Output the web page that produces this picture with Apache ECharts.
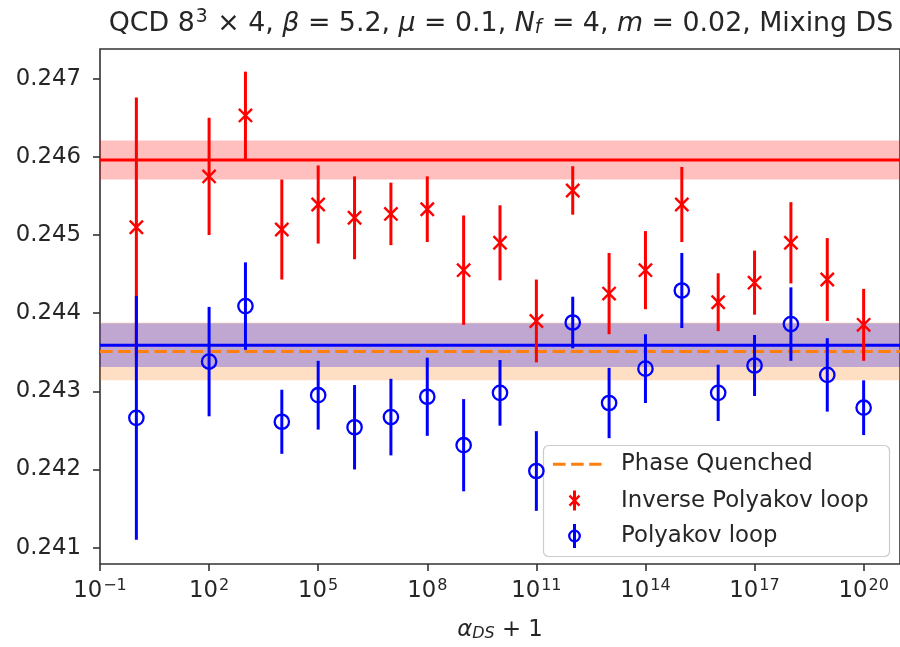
<!DOCTYPE html>
<html>
<head>
<meta charset="utf-8">
<script src="https://cdn.jsdelivr.net/npm/echarts@6/dist/echarts.min.js"></script>
<style>
  html, body { margin: 0; padding: 0; background: #fff; }
  #chart { width: 900px; height: 647px; }
</style>
</head>
<body>
<div id="chart"></div>
<script>
// alpha_DS + 1 for each mixing run
const alphaPlusOne = [1, 1e2, 1e3, 1e4, 1e5, 1e6, 1e7, 1e8, 1e9, 1e10,
                      1e11, 1e12, 1e13, 1e14, 1e15, 1e16, 1e17, 1e18, 1e19, 1e20];

// inverse Polyakov loop and its error
const inversePolyakov = [0.24510, 0.24575, 0.24653, 0.24507, 0.24539, 0.24522, 0.24527, 0.24533, 0.24455, 0.24490,
                         0.24390, 0.24557, 0.24425, 0.24455, 0.24539, 0.24414, 0.24439, 0.24490, 0.24443, 0.24385];
const inversePolyakovErr = [0.00166, 0.00075, 0.00056, 0.00064, 0.00050, 0.00053, 0.00040, 0.00042, 0.00070, 0.00048,
                            0.00053, 0.00031, 0.00052, 0.00050, 0.00048, 0.00037, 0.00041, 0.00052, 0.00053, 0.00046];

// Polyakov loop and its error
const polyakov = [0.24266, 0.24338, 0.24409, 0.24261, 0.24295, 0.24254, 0.24267, 0.24293, 0.24231, 0.24298,
                  0.24198, 0.24388, 0.24285, 0.24329, 0.24429, 0.24298, 0.24333, 0.24386, 0.24321, 0.24279];
const polyakovErr = [0.00156, 0.00070, 0.00056, 0.00041, 0.00044, 0.00054, 0.00049, 0.00050, 0.00059, 0.00042,
                     0.00051, 0.00033, 0.00045, 0.00044, 0.00048, 0.00036, 0.00039, 0.00047, 0.00047, 0.00035];

// reference levels: [mean, error]
const inverseReference = [0.24596, 0.00025];
const polyakovReference = [0.24359, 0.00028];
const phaseQuenched = [0.24351, 0.00037];

// tick labels
const xTickExponents = [-1, 2, 5, 8, 11, 14, 17, 20];
const yTicks = [0.241, 0.242, 0.243, 0.244, 0.245, 0.246, 0.247];

// axis extents
const X_MIN = 0.1, X_MAX = 1e21;
const Y_MIN = 0.24079, Y_MAX = 0.24738;

const FONT = 'DejaVu Sans';
const RED = '#ff0000';
const BLUE = '#0000ff';
const ORANGE = '#ff7f0e';
const INK = '#262626';

const chart = echarts.init(document.getElementById('chart'), null, { renderer: 'canvas' });

function errorBarRenderer(marker, color) {
  return function (params, api) {
    const x = api.value(0), y = api.value(1), e = api.value(2);
    const c = api.coord([x, y]);
    const hi = api.coord([x, y + e]);
    const lo = api.coord([x, y - e]);
    const children = [{
      type: 'line',
      shape: { x1: c[0], y1: hi[1], x2: c[0], y2: lo[1] },
      style: { stroke: color, lineWidth: 3 }
    }];
    if (marker === 'x') {
      const r = 6.6;
      children.push({ type: 'line', shape: { x1: c[0] - r, y1: c[1] - r, x2: c[0] + r, y2: c[1] + r },
                      style: { stroke: color, lineWidth: 2.4 } });
      children.push({ type: 'line', shape: { x1: c[0] - r, y1: c[1] + r, x2: c[0] + r, y2: c[1] - r },
                      style: { stroke: color, lineWidth: 2.4 } });
    } else {
      children.push({ type: 'circle', shape: { cx: c[0], cy: c[1], r: 7.2 },
                      style: { fill: 'none', stroke: color, lineWidth: 2.3 } });
    }
    return { type: 'group', children };
  };
}

function band(ref) {
  return [[{ yAxis: ref[0] - ref[1] }, { yAxis: ref[0] + ref[1] }]];
}

function levelLine(ref, color, dash, name) {
  return {
    name: name, type: 'line', z: 2, silent: true, showSymbol: false, symbol: 'none',
    lineStyle: { color: color, width: 3, type: dash || 'solid' },
    data: [[X_MIN, ref[0]], [X_MAX, ref[0]]]
  };
}

const option = {
  animation: false,
  backgroundColor: '#fff',
  grid: {
    left: 100, top: 49, width: 801, height: 521,
    show: true, borderColor: '#333', borderWidth: 1.6, backgroundColor: 'transparent'
  },
  xAxis: {
    type: 'log',
    logBase: 10,
    min: X_MIN,
    max: X_MAX,
    splitLine: { show: false },
    axisLine: { show: false },
    axisTick: {
      show: true, length: 7, inside: false,
      lineStyle: { color: '#333', width: 1.6 },
      customValues: xTickExponents.map(e => Math.pow(10, e))
    },
    axisLabel: {
      margin: 14,
      customValues: xTickExponents.map(e => Math.pow(10, e)),
      formatter: function (v) {
        const e = Math.round(Math.log10(v));
        return '{b|10}{s|' + (e < 0 ? '\u2212' + (-e) : e) + '}';
      },
      rich: {
        b: { fontFamily: FONT, fontSize: 22.8, color: INK },
        s: { fontFamily: FONT, fontSize: 16, color: INK, padding: [0, 0, 11, 1] }
      }
    },
    name: '{i|\u03b1}{sub|DS}{n| + 1}',
    nameLocation: 'middle',
    nameGap: 54,
    nameTextStyle: {
      rich: {
        i: { fontFamily: FONT, fontSize: 22.8, fontStyle: 'italic', color: INK },
        sub: { fontFamily: FONT, fontSize: 16, fontStyle: 'italic', color: INK, padding: [8, 0, 0, 0] },
        n: { fontFamily: FONT, fontSize: 22.8, color: INK }
      }
    }
  },
  yAxis: {
    type: 'value',
    min: Y_MIN,
    max: Y_MAX,
    splitLine: { show: false },
    axisLine: { show: false },
    axisTick: {
      show: true, length: 7, inside: false,
      lineStyle: { color: '#333', width: 1.6 },
      customValues: yTicks
    },
    axisLabel: {
      margin: 19,
      customValues: yTicks,
      formatter: v => v.toFixed(3),
      fontFamily: FONT, fontSize: 22.8, color: INK
    }
  },
  series: [
    // shaded error bands
    { type: 'line', data: [], z: 1, silent: true,
      markArea: { silent: true, itemStyle: { color: 'rgba(255,127,14,0.25)' }, data: band(phaseQuenched) } },
    { type: 'line', data: [], z: 1, silent: true,
      markArea: { silent: true, itemStyle: { color: 'rgba(0,0,255,0.25)' }, data: band(polyakovReference) } },
    { type: 'line', data: [], z: 1, silent: true,
      markArea: { silent: true, itemStyle: { color: 'rgba(255,0,0,0.25)' }, data: band(inverseReference) } },
    // reference levels
    levelLine(inverseReference, RED, 'solid', 'Inverse reference'),
    levelLine(polyakovReference, BLUE, 'solid', 'Polyakov reference'),
    levelLine(phaseQuenched, ORANGE, [12.6, 5.5], 'Phase Quenched'),
    // measurements
    { name: 'Inverse Polyakov loop', type: 'custom', z: 3,
      renderItem: errorBarRenderer('x', RED),
      encode: { x: 0, y: 1 },
      data: alphaPlusOne.map((a, i) => [a, inversePolyakov[i], inversePolyakovErr[i]]) },
    { name: 'Polyakov loop', type: 'custom', z: 4,
      renderItem: errorBarRenderer('o', BLUE),
      encode: { x: 0, y: 1 },
      data: alphaPlusOne.map((a, i) => [a, polyakov[i], polyakovErr[i]]) }
  ],
  graphic: [
    {
      type: 'text', x: 501, y: 24, z: 10,
      style: {
        text: '{r|QCD 8}{sup|3}{r| \u00d7 4, }{i|\u03b2}{r| = 5.2, }{i|\u03bc}{r| = 0.1, }{i|N}{sub|f}{r| = 4, }{i|m}{r| = 0.02, Mixing DS}',
        align: 'center', verticalAlign: 'middle',
        rich: {
          r: { fontFamily: FONT, fontSize: 26.8, fill: INK },
          i: { fontFamily: FONT, fontSize: 26.8, fontStyle: 'italic', fill: INK },
          sup: { fontFamily: FONT, fontSize: 18.8, fill: INK, padding: [0, 1, 13, 1] },
          sub: { fontFamily: FONT, fontSize: 18.8, fontStyle: 'italic', fill: INK, padding: [9, 2, 0, 0] }
        }
      }
    },
    {
      type: 'group', z: 20,
      children: [
        { type: 'rect', shape: { x: 543.5, y: 445.5, width: 346, height: 111, r: 5 },
          style: { fill: 'rgba(255,255,255,0.8)', stroke: '#cccccc', lineWidth: 1.2 } },
        { type: 'line', shape: { x1: 553, y1: 464.3, x2: 601.5, y2: 464.3 },
          style: { stroke: ORANGE, lineWidth: 3, lineDash: [12.6, 5.5] } },
        { type: 'text', x: 621, y: 464.3,
          style: { text: 'Phase Quenched', fontFamily: FONT, fontSize: 22.8, fill: INK, verticalAlign: 'middle' } },
        { type: 'line', shape: { x1: 574.5, y1: 490.5, x2: 574.5, y2: 510.5 }, style: { stroke: RED, lineWidth: 3 } },
        { type: 'line', shape: { x1: 569.5, y1: 495.7, x2: 579.5, y2: 505.7 }, style: { stroke: RED, lineWidth: 2.4 } },
        { type: 'line', shape: { x1: 569.5, y1: 505.7, x2: 579.5, y2: 495.7 }, style: { stroke: RED, lineWidth: 2.4 } },
        { type: 'text', x: 621, y: 500.7,
          style: { text: 'Inverse Polyakov loop', fontFamily: FONT, fontSize: 22.8, fill: INK, verticalAlign: 'middle' } },
        { type: 'line', shape: { x1: 574.5, y1: 524, x2: 574.5, y2: 548 }, style: { stroke: BLUE, lineWidth: 3 } },
        { type: 'circle', shape: { cx: 574.5, cy: 536, r: 5.3 }, style: { fill: 'none', stroke: BLUE, lineWidth: 2.3 } },
        { type: 'text', x: 621, y: 536,
          style: { text: 'Polyakov loop', fontFamily: FONT, fontSize: 22.8, fill: INK, verticalAlign: 'middle' } }
      ]
    }
  ]
};

chart.setOption(option);
</script>
</body>
</html>
